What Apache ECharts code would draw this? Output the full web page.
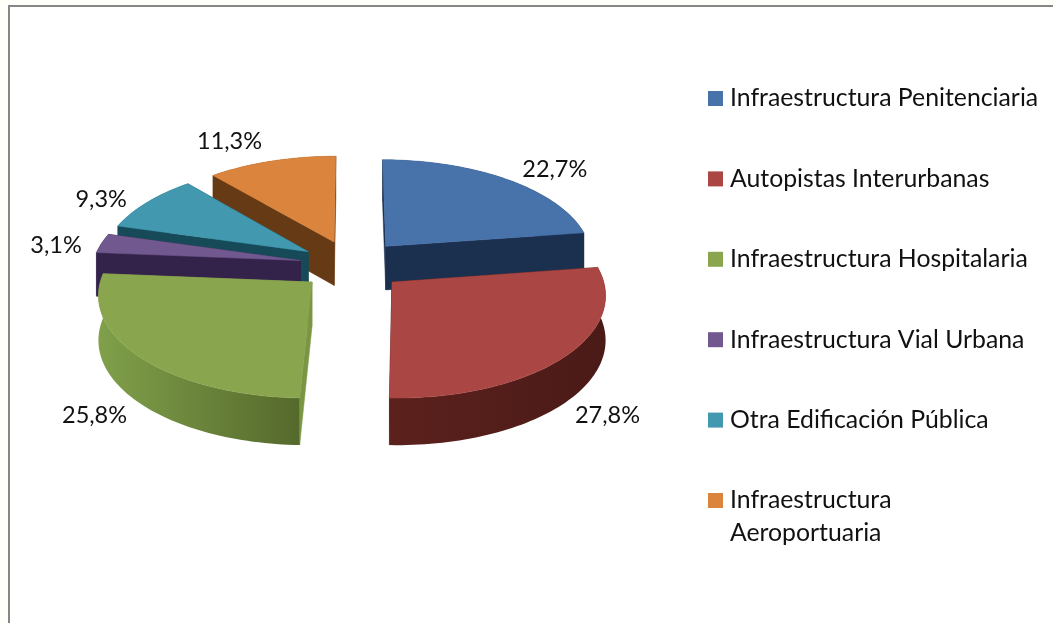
<!DOCTYPE html>
<html><head><meta charset="utf-8">
<style>html,body{margin:0;padding:0;background:#fffffa}#c{width:1053px;height:623px}</style>
<script src="https://cdn.jsdelivr.net/npm/echarts@6/dist/echarts.min.js"></script>
</head><body><div id="c"></div>
<script>
const categories = ['Infraestructura Penitenciaria','Autopistas Interurbanas','Infraestructura Hospitalaria','Infraestructura Vial Urbana','Otra Edificación Pública','Infraestructura Aeroportuaria'];
const values = [22.7, 27.8, 25.8, 3.1, 9.3, 11.3];
const valueLabels = ['22,7%','27,8%','25,8%','3,1%','9,3%','11,3%'];

const topColors = ['#4773aa','#aa4643','#89a54e','#71588f','#4198af','#db843d'];
const radialColors = ['#1b2f4f','#4a1a17','#7a9644','#33224a','#164a58','#663a14'];
const rimColors = [['#1b2f4f','#1b2f4f'],['#4a1a17','#5c211d'],['#80a04a','#55692c'],['#33224a','#33224a'],['#164a58','#164a58'],['#663a14','#663a14']];
const zBySlice = [2,6,5,4,3,1];
const labelNudge = [[48,-10],[42,59],[-44,59],[-45.5,2],[-46,-3],[-42,-20]];
const FONT = 'Lato';
const LABEL_FS = 23.5;
const LEGEND_FS = 24.8;

const view = {cx:352, cy:265, rx:208, ry:99.6, k:0.107, depth:44, explode:0.253};
const total = values.reduce((a,b)=>a+b,0);
function project(u,v){
  const s = 1/(1+view.k*v);
  return {x:view.cx+view.rx*u*s, y:view.cy-view.ry*v*s, s};
}
function sliceAngles(i){
  let a=0; for(let j=0;j<i;j++) a+=values[j];
  return [a/total*2*Math.PI, (a+values[i])/total*2*Math.PI];
}
function renderSlice(i){
  return function(){
    const [st,en]=sliceAngles(i), mid=(st+en)/2;
    const ou=view.explode*Math.sin(mid), ov=view.explode*Math.cos(mid);
    const apex=project(ou,ov);
    const n=Math.max(6,Math.round((en-st)*40));
    const rim=[];
    for(let j=0;j<=n;j++){
      const a=st+(en-st)*j/n;
      rim.push(project(ou+Math.sin(a),ov+Math.cos(a)));
    }
    const up=p=>[p.x,p.y], dn=p=>[p.x,p.y+view.depth*(1+(p.s-1)*0.5)];
    const poly=(pts,fill)=>({type:'polygon',shape:{points:pts},style:{fill,stroke:fill,lineWidth:0.5}});
    const kids=[];
    kids.push(poly([up(apex),up(rim[0]),dn(rim[0]),dn(apex)],radialColors[i]));
    kids.push(poly([up(apex),up(rim[n]),dn(rim[n]),dn(apex)],radialColors[i]));
    const xs=rim.map(p=>p.x), x0=Math.min(...xs), x1=Math.max(...xs);
    const grad=new echarts.graphic.LinearGradient(x0,0,x1,0,[
      {offset:0,color:(i===2?rimColors[i][0]:rimColors[i][1])},
      {offset:1,color:(i===2?rimColors[i][1]:rimColors[i][0])}],true);
    const wall=rim.map(up).concat(rim.slice().reverse().map(dn));
    kids.push({type:'polygon',shape:{points:wall},style:{fill:grad}});
    kids.push(poly([up(apex)].concat(rim.map(up)),topColors[i]));
    const r=project(ou+Math.sin(mid),ov+Math.cos(mid));
    kids.push({type:'text',style:{text:valueLabels[i],x:r.x+labelNudge[i][0],y:r.y+labelNudge[i][1],
      align:'center',verticalAlign:'middle',fill:'#111',font:LABEL_FS+'px '+FONT}});
    return {type:'group',children:kids};
  };
}
const series=categories.map((name,i)=>({
  type:'custom',name,coordinateSystem:'none',z:zBySlice[i],silent:true,
  itemStyle:{color:topColors[i]},
  data:[[values[i]]],renderItem:renderSlice(i),animation:false
}));
const legendText={fontFamily:FONT,fontSize:LEGEND_FS,color:'#111',lineHeight:33,padding:[0,0,0,2]};
const option={
  animation:false,
  backgroundColor:'transparent',
  graphic:[{type:'rect',z:-1,shape:{x:9,y:6,width:1060,height:640},
    style:{fill:'#ffffff',stroke:'#868686',lineWidth:2}}],
  legend:[
    {orient:'vertical',left:703,top:77,itemWidth:15,itemHeight:15,itemGap:47.4,icon:'rect',
     data:categories.slice(0,5),textStyle:legendText,selectedMode:false},
    {orient:'vertical',left:703,top:446,itemWidth:15,itemHeight:15,icon:'rect',
     data:[categories[5]],textStyle:legendText,selectedMode:false,
     formatter:()=>'\u00a0\nInfraestructura\nAeroportuaria'}
  ],
  series
};
echarts.init(document.getElementById('c'),null,{renderer:'canvas'}).setOption(option);
</script></body></html>
